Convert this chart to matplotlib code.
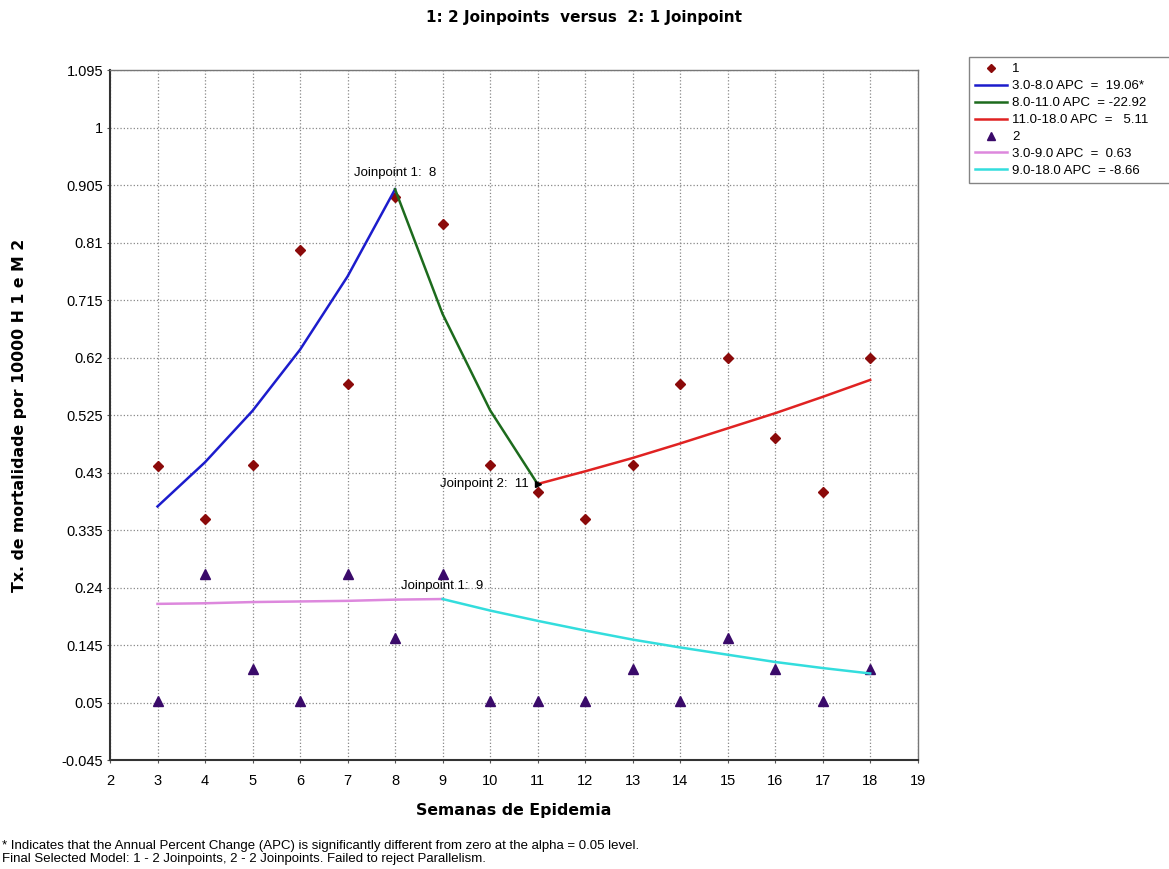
import matplotlib.pyplot as plt
from matplotlib.ticker import FixedLocator

plt.rcParams['font.family'] = ['Liberation Sans', 'DejaVu Sans']

# observed data
weeks = [3, 4, 5, 6, 7, 8, 9, 10, 11, 12, 13, 14, 15, 16, 17, 18]
obs1 = [0.44, 0.353, 0.442, 0.797, 0.576, 0.885, 0.841, 0.442, 0.398,
        0.353, 0.442, 0.576, 0.62, 0.487, 0.398, 0.62]
obs2 = [0.052, 0.262, 0.105, 0.052, 0.262, 0.157, 0.262, 0.052, 0.052,
        0.052, 0.105, 0.052, 0.157, 0.105, 0.052, 0.105]

# fitted segments, group 1
seg1a_x = [3, 4, 5, 6, 7, 8]
seg1a_y = [0.374, 0.447, 0.532, 0.633, 0.754, 0.898]
seg1b_x = [8, 9, 10, 11]
seg1b_y = [0.898, 0.692, 0.533, 0.411]
seg1c_x = [11, 12, 13, 14, 15, 16, 17, 18]
seg1c_y = [0.411, 0.432, 0.454, 0.478, 0.503, 0.528, 0.555, 0.583]

# fitted segments, group 2
seg2a_x = [3, 4, 5, 6, 7, 8, 9]
seg2a_y = [0.213, 0.214, 0.216, 0.217, 0.218, 0.220, 0.221]
seg2b_x = [9, 10, 11, 12, 13, 14, 15, 16, 17, 18]
seg2b_y = [0.221, 0.202, 0.185, 0.169, 0.154, 0.141, 0.129, 0.117, 0.107, 0.098]

labels = ['1', '3.0-8.0 APC  =  19.06*', '8.0-11.0 APC  = -22.92',
          '11.0-18.0 APC  =   5.11', '2', '3.0-9.0 APC  =  0.63',
          '9.0-18.0 APC  = -8.66']
yticks = [-0.045, 0.05, 0.145, 0.24, 0.335, 0.43, 0.525, 0.62, 0.715,
          0.81, 0.905, 1, 1.095]
ytick_labels = ['-0.045', '0.05', '0.145', '0.24', '0.335', '0.43', '0.525',
                '0.62', '0.715', '0.81', '0.905', '1', '1.095']

fig = plt.figure(figsize=(11.69, 8.69), dpi=100)
ax = fig.add_axes([0.0941, 0.1254, 0.6909, 0.794])

h1, = ax.plot(weeks, obs1, 'D', color='#8b0a0a', markersize=5, linestyle='none')
ha, = ax.plot(seg1a_x, seg1a_y, color='#1c1ccc', lw=1.8)
hb, = ax.plot(seg1b_x, seg1b_y, color='#1d6b1d', lw=1.8)
hc, = ax.plot(seg1c_x, seg1c_y, color='#e02222', lw=1.8)
h2, = ax.plot(weeks, obs2, '^', color='#3a0a6a', markersize=6.5, linestyle='none')
hd, = ax.plot(seg2a_x, seg2a_y, color='#dd88dd', lw=1.8)
he, = ax.plot(seg2b_x, seg2b_y, color='#33dddd', lw=1.8)

# joinpoint labels
ax.plot([11.0], [seg1b_y[-1]], '>', color='black', markersize=5)
ax.text(8, 0.915, 'Joinpoint 1:  8', ha='center', va='bottom', fontsize=9.5)
ax.text(10.82, 0.411, 'Joinpoint 2:  11', ha='right', va='center', fontsize=9.5)
ax.text(9, 0.232, 'Joinpoint 1:  9', ha='center', va='bottom', fontsize=9.5)

ax.set_xlim(2, 19)
ax.set_ylim(-0.045, 1.095)
ax.set_xticks(range(2, 20))
ax.yaxis.set_major_locator(FixedLocator(yticks))
ax.set_yticklabels(ytick_labels)
ax.tick_params(labelsize=10.5, length=2, color='#555555')
ax.tick_params(axis='x', pad=8)
ax.tick_params(axis='y', pad=3)
ax.grid(True, linestyle=':', color='#888888', lw=0.9)
for side, s in ax.spines.items():
    s.set_color('#333333' if side in ('left', 'bottom') else '#777777')
    s.set_linewidth(1.5 if side in ('left', 'bottom') else 1.0)

ax.set_xlabel('Semanas de Epidemia', fontsize=11.3, fontweight='bold',
              family=['DejaVu Sans'])
ax.xaxis.set_label_coords(0.5, -0.0725)
ax.xaxis.label.set_va('center')
ax.set_ylabel('Tx. de mortalidade por 10000 H 1 e M 2', fontsize=11.3,
              fontweight='bold', family=['DejaVu Sans'])
ax.yaxis.set_label_coords(-0.1126, 0.5)
ax.yaxis.label.set_va('center')
fig.text(0.5, 0.9804, '1: 2 Joinpoints  versus  2: 1 Joinpoint', ha='center',
         va='center', fontsize=11, fontweight='bold', family=['DejaVu Sans'])

leg = fig.legend([h1, ha, hb, hc, h2, hd, he], labels,
                 loc='upper left',
                 bbox_to_anchor=(969 / 1169, 1 - 183 / 869, 0.2, 126 / 869),
                 mode='expand', fontsize=9.5, frameon=True, fancybox=False,
                 handlelength=2.4, borderpad=0.45, labelspacing=0.36,
                 handletextpad=0.4, borderaxespad=0, markerscale=0.8)
leg.get_frame().set_edgecolor('#666666')
leg.get_frame().set_linewidth(1.0)

fig.text(0.002, 1 - 846 / 869, '* Indicates that the Annual Percent Change (APC) is significantly '
         'different from zero at the alpha = 0.05 level.', fontsize=9.5, va='center')
fig.text(0.002, 1 - 859 / 869, 'Final Selected Model: 1 - 2 Joinpoints, 2 - 2 Joinpoints. '
         'Failed to reject Parallelism.', fontsize=9.5, va='center')

fig.savefig('out.png', dpi=100)
